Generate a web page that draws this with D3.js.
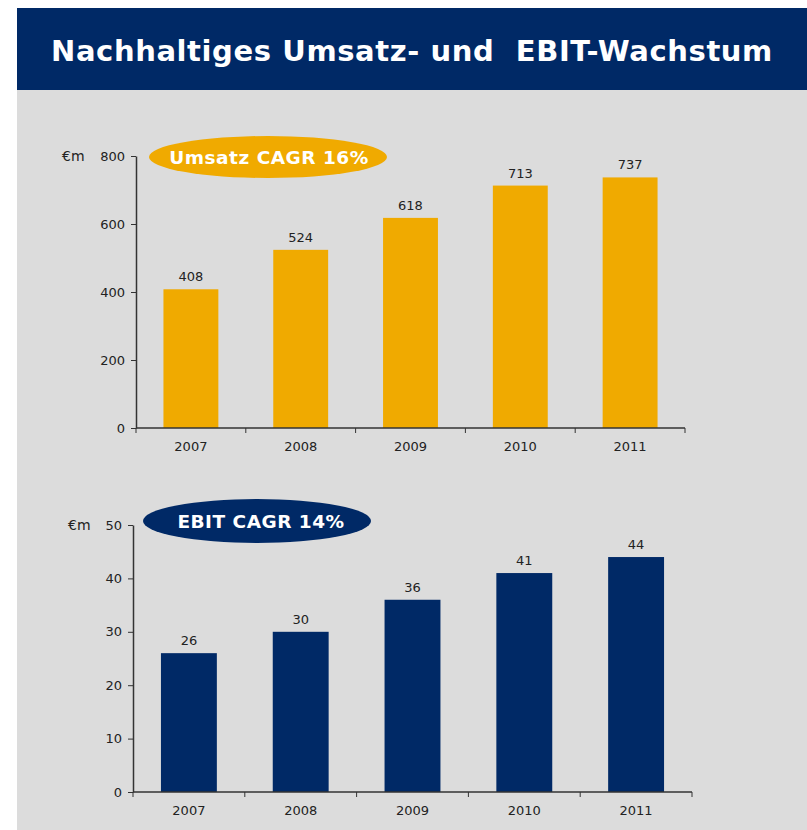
<!DOCTYPE html>
<html>
<head>
<meta charset="utf-8">
<script src="https://cdn.jsdelivr.net/npm/d3@7"></script>
<style>
  body { margin: 0; background: #ffffff; }
  svg { display: block; font-family: "DejaVu Sans", Verdana, sans-serif; }
</style>
</head>
<body>
<script>
// data
const years = ["2007", "2008", "2009", "2010", "2011"];
const umsatz = [408, 524, 618, 713, 737];
const ebit = [26, 30, 36, 41, 44];
const umsatzTicks = [0, 200, 400, 600, 800];
const ebitTicks = [0, 10, 20, 30, 40, 50];
const titleText = "Nachhaltiges Umsatz- und  EBIT-Wachstum";

const width = 807, height = 830;
const navy = "#002966", orange = "#F0AA00";

const svg = d3.select("body").append("svg")
    .attr("width", width)
    .attr("height", height);

// panel background + title bar
svg.append("rect").attr("x", 17).attr("y", 90).attr("width", width - 17).attr("height", 740).attr("fill", "#DCDCDC");
svg.append("rect").attr("x", 17).attr("y", 8).attr("width", width - 17).attr("height", 82).attr("fill", navy);
svg.append("text")
    .attr("x", 412).attr("y", 61)
    .attr("text-anchor", "middle")
    .attr("fill", "#fff")
    .attr("font-weight", "bold")
    .attr("font-size", 29)
    .attr("letter-spacing", 0.6)
    .style("white-space", "pre")
    .text(titleText);

function barChart(opts) {
    const x = d3.scaleBand().domain(years).range([opts.x0, opts.x1]).paddingInner(0.5).paddingOuter(0.25);
    const y = d3.scaleLinear().domain([0, d3.max(opts.ticks)]).range([opts.y0, opts.y1]);
    const g = svg.append("g");

    g.selectAll(".bar")
        .data(opts.values)
        .enter().append("rect")
        .attr("class", "bar")
        .attr("x", (d, i) => x(years[i]))
        .attr("width", x.bandwidth())
        .attr("y", d => y(d))
        .attr("height", d => y(0) - y(d))
        .attr("fill", opts.color);

    g.selectAll(".val")
        .data(opts.values)
        .enter().append("text")
        .attr("class", "val")
        .attr("x", (d, i) => x(years[i]) + x.bandwidth() / 2)
        .attr("y", d => y(d) - 8)
        .attr("text-anchor", "middle")
        .attr("font-size", 13)
        .attr("fill", "#222")
        .text(d => d);

    // y axis
    const ya = g.append("g")
        .attr("transform", "translate(" + opts.x0 + ",0)")
        .call(d3.axisLeft(y).tickValues(opts.ticks).tickSize(5).tickPadding(6).tickSizeOuter(0));
    ya.select(".domain").attr("stroke", "#333").attr("stroke-width", 1.5);
    ya.selectAll(".tick line").attr("stroke", "#333");
    ya.selectAll(".tick text").attr("font-size", 13).attr("fill", "#222").attr("font-family", "DejaVu Sans");

    // x axis with ticks between categories
    const xa = g.append("g").attr("transform", "translate(0," + opts.y0 + ")");
    xa.append("line").attr("x1", opts.x0).attr("x2", opts.x1).attr("stroke", "#333").attr("stroke-width", 1.5);
    const step = x.step();
    xa.selectAll(".sep")
        .data(d3.range(years.length + 1))
        .enter().append("line")
        .attr("x1", i => opts.x0 + i * step)
        .attr("x2", i => opts.x0 + i * step)
        .attr("y1", 0).attr("y2", 5)
        .attr("stroke", "#333");
    xa.selectAll(".lab")
        .data(years)
        .enter().append("text")
        .attr("x", d => x(d) + x.bandwidth() / 2)
        .attr("y", 23)
        .attr("text-anchor", "middle")
        .attr("font-size", 13)
        .attr("fill", "#222")
        .text(d => d);

    // unit
    g.append("text")
        .attr("x", opts.unitX).attr("y", opts.y1 + 5)
        .attr("font-size", 14)
        .attr("fill", "#222")
        .text("€m");

    // CAGR ellipse
    g.append("ellipse")
        .attr("cx", opts.ell.cx).attr("cy", opts.ell.cy)
        .attr("rx", opts.ell.rx).attr("ry", opts.ell.ry)
        .attr("fill", opts.color);
    g.append("text")
        .attr("x", opts.ell.cx + opts.ell.dx).attr("y", opts.ell.cy + 7)
        .attr("text-anchor", "middle")
        .attr("font-weight", "bold")
        .attr("font-size", 18.5)
        .attr("letter-spacing", 0.5)
        .attr("fill", "#fff")
        .text(opts.label);
}

barChart({
    values: umsatz, ticks: umsatzTicks, color: orange,
    x0: 136, x1: 685, y0: 428, y1: 156, unitX: 62,
    ell: { cx: 268, cy: 157, rx: 119, ry: 21, dx: 1 },
    label: "Umsatz CAGR 16%"
});

barChart({
    values: ebit, ticks: ebitTicks, color: navy,
    x0: 133, x1: 692, y0: 792, y1: 525, unitX: 68,
    ell: { cx: 257, cy: 521, rx: 114, ry: 22, dx: 4 },
    label: "EBIT CAGR 14%"
});
</script>
</body>
</html>
